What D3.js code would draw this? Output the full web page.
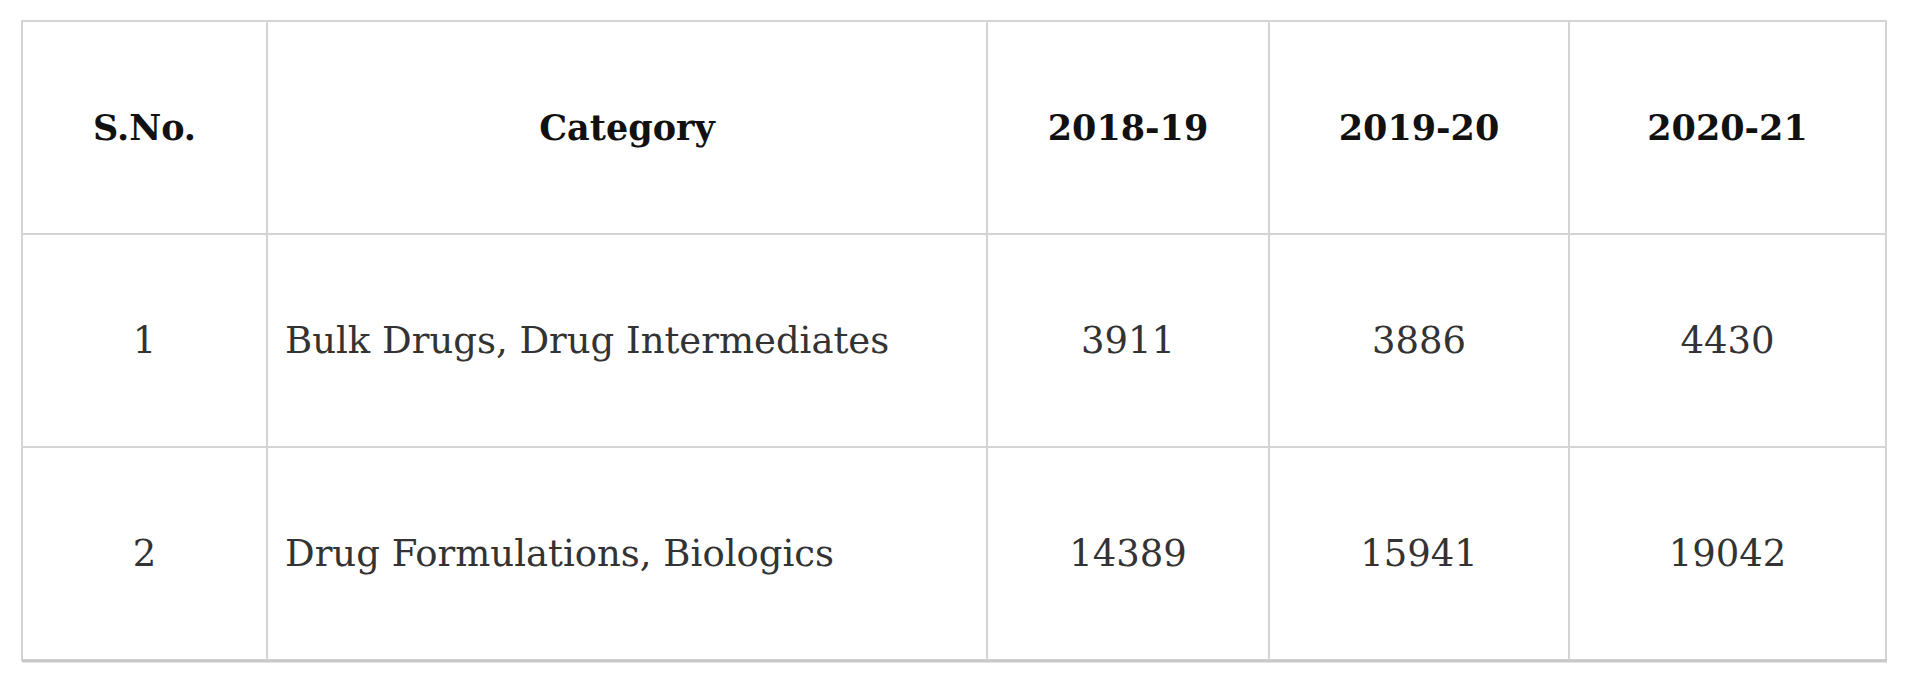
<!DOCTYPE html>
<html>
<head>
<meta charset="utf-8">
<script src="https://cdn.jsdelivr.net/npm/d3@7"></script>
<style>
  body { margin: 0; background: #fff; }
</style>
</head>
<body>
<script>
// table content
var headers = ["S.No.", "Category", "2018-19", "2019-20", "2020-21"];
var serialNos = ["1", "2"];
var categories = ["Bulk Drugs, Drug Intermediates", "Drug Formulations, Biologics"];
var values1819 = [3911, 14389];
var values1920 = [3886, 15941];
var values2021 = [4430, 19042];

var rows = [headers].concat(serialNos.map(function (s, i) {
    return [s, categories[i], values1819[i], values1920[i], values2021[i]];
}));

var svg = d3.select("body").append("svg")
    .attr("width", 1920).attr("height", 698);

// column edges
var colEdges = [22, 267, 987, 1269, 1569, 1886];
var y = d3.scaleBand().domain(d3.range(rows.length)).range([21, 660]);

var g = svg.append("g");

g.append("rect")
    .attr("x", colEdges[0]).attr("y", y.range()[0])
    .attr("width", colEdges[5] - colEdges[0]).attr("height", y.range()[1] - y.range()[0])
    .attr("fill", "#fff").attr("stroke", "#d4d4d4").attr("stroke-width", 2);
g.append("line")
    .attr("x1", colEdges[0]).attr("x2", colEdges[5] + 1)
    .attr("y1", 661).attr("y2", 661)
    .attr("stroke", "#c8c8c8").attr("stroke-width", 3);

colEdges.slice(1, 5).forEach(function (cx) {
    g.append("line").attr("x1", cx).attr("x2", cx)
        .attr("y1", y.range()[0]).attr("y2", y.range()[1])
        .attr("stroke", "#d4d4d4").attr("stroke-width", 2);
});
d3.range(1, rows.length).forEach(function (r) {
    g.append("line").attr("x1", colEdges[0]).attr("x2", colEdges[5])
        .attr("y1", y(r)).attr("y2", y(r))
        .attr("stroke", "#d4d4d4").attr("stroke-width", 2);
});

rows.forEach(function (row, r) {
    row.forEach(function (val, c) {
        var left = c === 1 && r > 0;
        g.append("text")
            .attr("x", left ? colEdges[1] + 18 : (colEdges[c] + colEdges[c + 1]) / 2)
            .attr("y", y(r) + y.bandwidth() / 2)
            .attr("dy", "0.35em")
            .attr("text-anchor", left ? "start" : "middle")
            .attr("font-family", "'DejaVu Serif', serif")
            .attr("font-size", r === 0 ? 35 : 37)
            .attr("font-weight", r === 0 ? "bold" : "normal")
            .attr("fill", r === 0 ? "#111" : "#333")
            .text(val);
    });
});
</script>
</body>
</html>
